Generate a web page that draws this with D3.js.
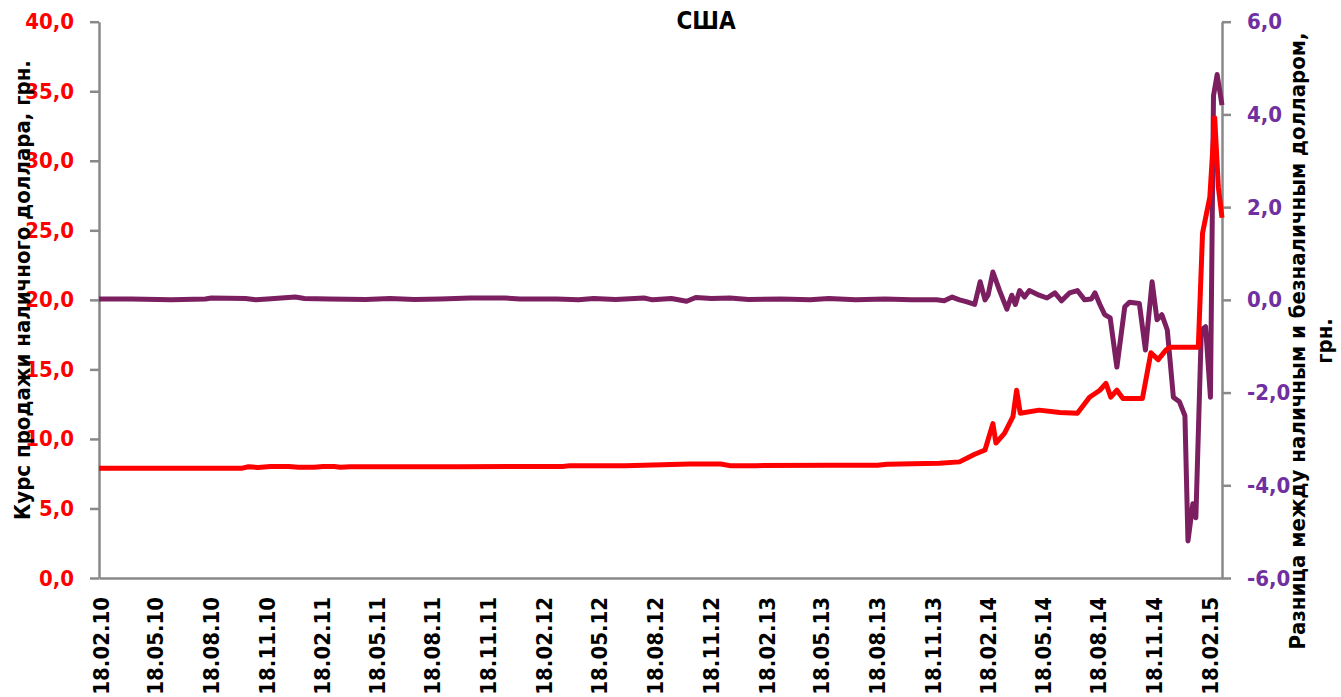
<!DOCTYPE html>
<html>
<head>
<meta charset="utf-8">
<script src="https://cdn.jsdelivr.net/npm/d3@7"></script>
<style>
    body { margin: 0; background: #fff; }
    .tick text { font-family: "DejaVu Sans Condensed", "DejaVu Sans", sans-serif; font-weight: bold; }
</style>
</head>
<body>
<div id="chart"></div>
<script>
// tick labels of the date axis
var xTickLabels = ["18.02.10", "18.05.10", "18.08.10", "18.11.10", "18.02.11", "18.05.11", "18.08.11",
    "18.11.11", "18.02.12", "18.05.12", "18.08.12", "18.11.12", "18.02.13", "18.05.13", "18.08.13",
    "18.11.13", "18.02.14", "18.05.14", "18.08.14", "18.11.14", "18.02.15"];
var leftTicks = [0, 5, 10, 15, 20, 25, 30, 35, 40];
var rightTicks = [-6, -4, -2, 0, 2, 4, 6];

// cash dollar selling rate, UAH
var rateDates = ["2010-02-16", "2010-05-01", "2010-08-01", "2010-10-10", "2010-10-20", "2010-11-05", "2010-11-25",
    "2010-12-25", "2011-01-10", "2011-02-05", "2011-02-20", "2011-03-10", "2011-03-20", "2011-04-05", "2011-07-01",
    "2011-10-01", "2012-01-01", "2012-03-20", "2012-04-01", "2012-07-01", "2012-10-15", "2012-12-05", "2012-12-20",
    "2013-02-01", "2013-06-01", "2013-08-20", "2013-09-05", "2013-11-30", "2014-01-02", "2014-01-27", "2014-02-13",
    "2014-02-26", "2014-03-03", "2014-03-17", "2014-03-31", "2014-04-06", "2014-04-12", "2014-05-13", "2014-06-16",
    "2014-07-15", "2014-08-04", "2014-08-21", "2014-08-31", "2014-09-08", "2014-09-18", "2014-09-28", "2014-10-30",
    "2014-11-13", "2014-11-25", "2014-12-08", "2014-12-15", "2015-01-30", "2015-02-06", "2015-02-18", "2015-02-26",
    "2015-03-04", "2015-03-10"];
var rateValues = [7.9, 7.9, 7.9, 7.9, 8.0, 7.95, 8.02,
    8.02, 7.96, 7.96, 8.02, 8.02, 7.96, 8.0, 8.0,
    8.0, 8.02, 8.02, 8.08, 8.08, 8.2, 8.2, 8.08,
    8.08, 8.1, 8.1, 8.18, 8.25, 8.35, 8.9, 9.2,
    11.1, 9.7, 10.4, 11.6, 13.5, 11.85, 12.07, 11.9,
    11.85, 13.0, 13.5, 14.0, 13.0, 13.5, 12.9, 12.9,
    16.2, 15.7, 16.4, 16.6, 16.6, 24.8, 27.4, 33.1,
    28.1, 25.9];

// difference between cash and non-cash dollar, UAH
var spreadDates = ["2010-02-16", "2010-04-10", "2010-06-15", "2010-08-10", "2010-08-20", "2010-10-15", "2010-11-01",
    "2010-11-20", "2011-01-05", "2011-01-20", "2011-03-01", "2011-05-01", "2011-06-10", "2011-07-20", "2011-09-01",
    "2011-10-20", "2011-12-15", "2012-01-10", "2012-03-10", "2012-04-15", "2012-05-10", "2012-06-15", "2012-08-01",
    "2012-08-15", "2012-09-15", "2012-10-10", "2012-10-25", "2012-11-20", "2012-12-20", "2013-01-20", "2013-03-15",
    "2013-05-01", "2013-06-01", "2013-07-15", "2013-09-01", "2013-10-15", "2013-11-25", "2013-12-08", "2013-12-21",
    "2014-01-02", "2014-01-13", "2014-01-27", "2014-02-05", "2014-02-13", "2014-02-18", "2014-02-26", "2014-03-09",
    "2014-03-21", "2014-03-29", "2014-04-04", "2014-04-11", "2014-04-19", "2014-04-27", "2014-05-13", "2014-05-26",
    "2014-06-08", "2014-06-19", "2014-07-02", "2014-07-15", "2014-07-27", "2014-08-07", "2014-08-13", "2014-08-21",
    "2014-08-29", "2014-09-07", "2014-09-18", "2014-10-01", "2014-10-09", "2014-10-25", "2014-11-04", "2014-11-15",
    "2014-11-23", "2014-12-01", "2014-12-10", "2014-12-20", "2014-12-30", "2015-01-08", "2015-01-13", "2015-01-21",
    "2015-01-26", "2015-02-04", "2015-02-11", "2015-02-19", "2015-02-24", "2015-03-02", "2015-03-10"];
var spreadValues = [0.02, 0.02, 0.0, 0.02, 0.04, 0.03, 0.0,
    0.02, 0.06, 0.03, 0.02, 0.01, 0.03, 0.01, 0.02,
    0.04, 0.04, 0.02, 0.02, 0.0, 0.03, 0.01, 0.04,
    0.0, 0.03, -0.03, 0.05, 0.03, 0.04, 0.01, 0.02,
    0.0, 0.03, 0.0, 0.02, 0.0, 0.0, -0.02, 0.06,
    0.0, -0.04, -0.1, 0.39, 0.0, 0.1, 0.6, 0.2,
    -0.2, 0.1, -0.1, 0.2, 0.06, 0.2, 0.1, 0.04,
    0.15, -0.02, 0.15, 0.2, 0.0, 0.02, 0.15, -0.1,
    -0.32, -0.39, -1.45, -0.15, -0.05, -0.08, -1.08, 0.39,
    -0.43, -0.32, -0.65, -2.1, -2.2, -2.5, -5.2, -4.4,
    -4.7, -0.65, -0.58, -2.1, 4.4, 4.86, 4.2];

var parseDay = d3.timeParse("%Y-%m-%d");
var parseTick = d3.timeParse("%d.%m.%y");

var width = 1341, height = 697;
var plot = { left: 99, right: 1222, top: 21.7, bottom: 578 };

var svg = d3.select("#chart").append("svg")
    .attr("width", width)
    .attr("height", height);

var x = d3.scaleTime()
    .domain([parseDay("2010-02-16"), parseDay("2015-03-10")])
    .range([plot.left, plot.right]);
var yLeft = d3.scaleLinear().domain([0, 40]).range([plot.bottom, plot.top]);
var yRight = d3.scaleLinear().domain([-6, 6]).range([plot.bottom, plot.top]);

var comma = function (d) { return d3.format(".1f")(d).replace(".", ",").replace("−", "-"); };

// left axis
var gLeft = svg.append("g")
    .attr("transform", "translate(" + plot.left + ",0)")
    .call(d3.axisLeft(yLeft).tickValues(leftTicks).tickSize(9).tickSizeOuter(0).tickPadding(16).tickFormat(comma));
gLeft.selectAll("text").attr("fill", "#ff0000").style("font-size", "22px");

// right axis
var gRight = svg.append("g")
    .attr("transform", "translate(" + plot.right + ",0)")
    .call(d3.axisRight(yRight).tickValues(rightTicks).tickSize(9).tickSizeOuter(0).tickPadding(16).tickFormat(comma));
gRight.selectAll("text").attr("fill", "#7030a0").style("font-size", "22px");

// bottom axis, labels rotated
var gBottom = svg.append("g")
    .attr("transform", "translate(0," + plot.bottom + ")")
    .call(d3.axisBottom(x).tickValues(xTickLabels.map(parseTick)).tickSize(0).tickSizeOuter(0)
        .tickFormat(d3.timeFormat("%d.%m.%y")));
gBottom.selectAll("text")
    .attr("transform", "rotate(-90)")
    .attr("x", -19)
    .attr("y", 0)
    .attr("dy", "0.36em")
    .attr("text-anchor", "end")
    .attr("fill", "#000")
    .style("font-size", "22px");

svg.selectAll(".domain, .tick line").attr("stroke", "#898989").attr("stroke-width", 2.5);

// lines
var rateData = rateDates.map(function (d, i) { return { date: parseDay(d), value: rateValues[i] }; });
var spreadData = spreadDates.map(function (d, i) { return { date: parseDay(d), value: spreadValues[i] }; });

svg.append("path")
    .datum(spreadData)
    .attr("fill", "none")
    .attr("stroke", "#7b1f61")
    .attr("stroke-width", 5)
    .attr("stroke-linejoin", "round")
    .attr("d", d3.line().x(function (d) { return x(d.date); }).y(function (d) { return yRight(d.value); }));

svg.append("path")
    .datum(rateData)
    .attr("fill", "none")
    .attr("stroke", "#ff0000")
    .attr("stroke-width", 5)
    .attr("stroke-linejoin", "round")
    .attr("d", d3.line().x(function (d) { return x(d.date); }).y(function (d) { return yLeft(d.value); }));

// title
svg.append("text")
    .attr("x", 706)
    .attr("y", 29)
    .attr("text-anchor", "middle")
    .style("font-family", "DejaVu Sans Condensed, DejaVu Sans, sans-serif")
    .style("font-weight", "bold")
    .style("font-size", "24px")
    .text("США");

// axis titles
svg.append("text")
    .attr("transform", "translate(30,290) rotate(-90)")
    .attr("text-anchor", "middle")
    .style("font-family", "DejaVu Sans Condensed, DejaVu Sans, sans-serif")
    .style("font-weight", "bold")
    .style("font-size", "22px")
    .text("Курс продажи наличного доллара, грн.");

var rightTitle = svg.append("text")
    .attr("transform", "translate(1297,341) rotate(-90)")
    .attr("text-anchor", "middle")
    .style("font-family", "DejaVu Sans Condensed, DejaVu Sans, sans-serif")
    .style("font-weight", "bold")
    .style("font-size", "22px");
rightTitle.append("tspan").attr("x", 0).attr("dy", "0.36em").text("Разница между наличным и безналичным долларом,");
rightTitle.append("tspan").attr("x", 0).attr("dy", "1.25em").text("грн.");
</script>
</body>
</html>
